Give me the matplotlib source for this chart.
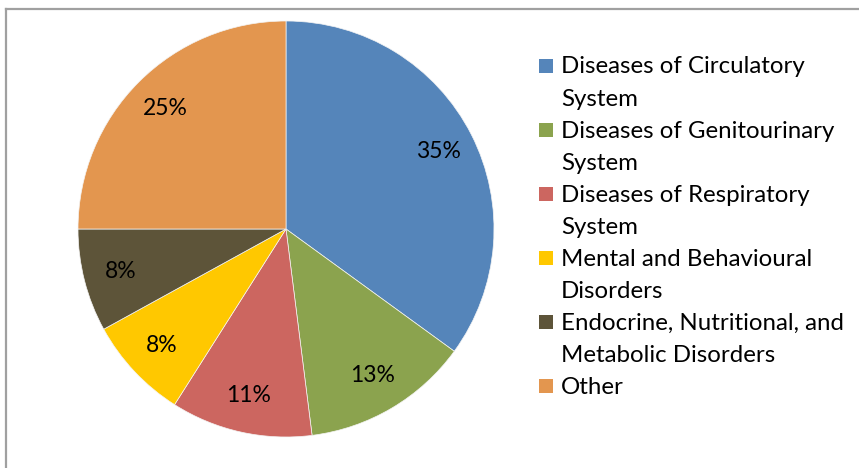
import matplotlib.pyplot as plt
from matplotlib.patches import Rectangle
from matplotlib.lines import Line2D

# share of hospital episodes by diagnosis group (%)
categories = ['Diseases of Circulatory\nSystem',
              'Diseases of Genitourinary\nSystem',
              'Diseases of Respiratory\nSystem',
              'Mental and Behavioural\nDisorders',
              'Endocrine, Nutritional, and\nMetabolic Disorders',
              'Other']
shares = [35, 13, 11, 8, 8, 25]
colors = ['#5585BA', '#8BA34E', '#CC6660', '#FFC800', '#5D5439', '#E3964F']

plt.rcParams['font.family'] = ['Lato', 'DejaVu Sans']

W, H = 859, 468
fig = plt.figure(figsize=(W / 100, H / 100), dpi=100)

# pie centred at (286, 229) px with radius 208 px
cx, cy, r = 286, 229, 208
ax = fig.add_axes([(cx - r) / W, (H - cy - r) / H, 2 * r / W, 2 * r / H])
ax.pie(shares, colors=colors, startangle=90, counterclock=False,
       autopct='%d%%', pctdistance=0.82,
       wedgeprops=dict(linewidth=0.5, edgecolor='#F4F4F4'),
       textprops=dict(fontsize=16.5, color='black'))
ax.set_xlim(-1, 1)
ax.set_ylim(-1, 1)
ax.set_aspect('equal')
ax.axis('off')

# legend: one square per entry, lines 32 px apart
line_h = 32
y = 66
for label, col in zip(categories, colors):
    fig.patches.append(Rectangle((539 / W, 1 - (y + 7) / H), 14 / W, 14 / H,
                                 transform=fig.transFigure, facecolor=col,
                                 edgecolor='none'))
    for i, part in enumerate(label.split('\n')):
        fig.text(561 / W, 1 - (y + 1 + i * line_h) / H, part, fontsize=17.3,
                 va='center', ha='left', color='black')
    y += line_h * (label.count('\n') + 1)

# chart frame (top and left edges)
fig.add_artist(Line2D([6 / W, 1], [1 - 9 / H, 1 - 9 / H], color='#A0A0A0',
                      linewidth=1.6, transform=fig.transFigure))
fig.add_artist(Line2D([6 / W, 6 / W], [0, 1 - 9 / H], color='#A0A0A0',
                      linewidth=1.6, transform=fig.transFigure))

fig.savefig('out.png', dpi=100)
